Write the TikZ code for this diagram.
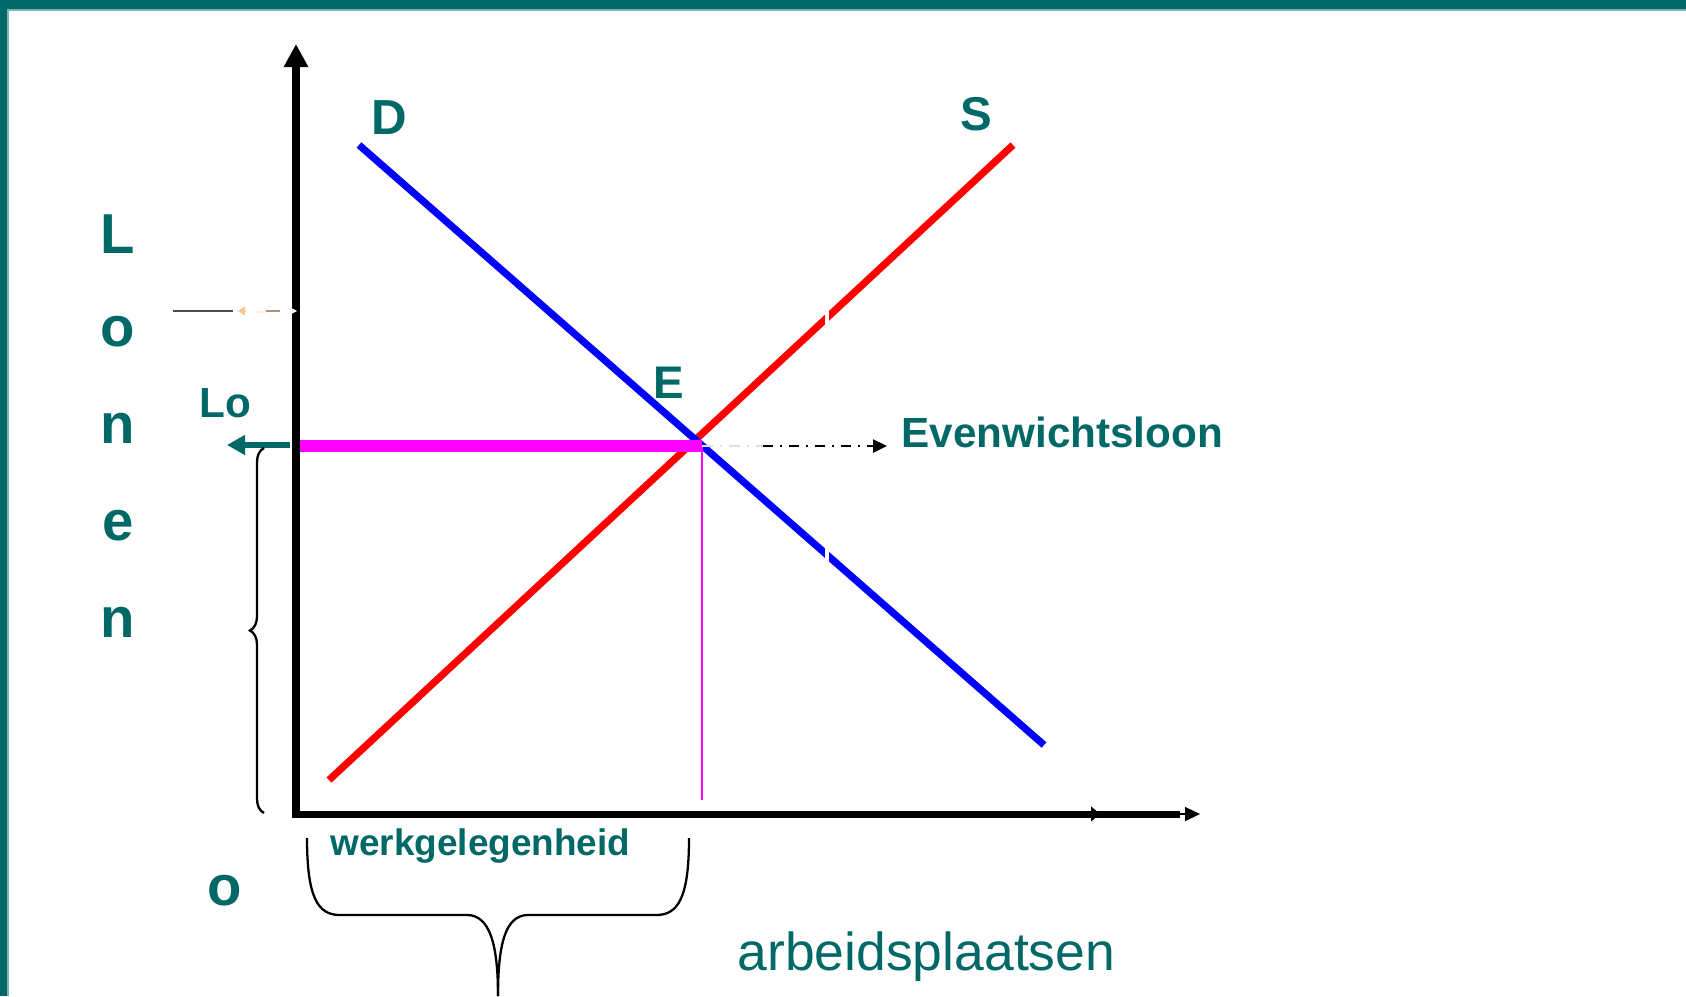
\documentclass[tikz,border=0pt]{standalone}
\usepackage{fontspec}
\setmainfont{Liberation Sans}
\usepackage{xcolor}
\usetikzlibrary{arrows.meta,decorations.pathreplacing}
\definecolor{lonenteal}{HTML}{006866}
\definecolor{loonpink}{RGB}{255,0,255}
\definecolor{dred}{RGB}{255,0,0}
\definecolor{dblue}{RGB}{0,0,255}

\begin{document}
\begin{tikzpicture}[
  x=0.01cm, y=-0.01cm,
  axis/.style={line width=2pt, black},
  curve/.style={line width=2.05pt},
  tealtxt/.style={text=lonenteal, inner sep=0pt},
  bracestroke/.style={line width=0.65pt, black}
]
\useasboundingbox (0,0) rectangle (1686,996);
\fill[lonenteal] (0,0) rectangle (1686,9);
\fill[lonenteal] (0,0) rectangle (7,996);
\fill[lonenteal!50] (7,9) rectangle (1686,10.5);
\fill[lonenteal!50] (7,9) rectangle (8.5,996);

\coordinate (O) at (296,814);
\coordinate (ytop) at (296,44);
\coordinate (xend) at (1180,814);
\coordinate (xmid) at (1100,814);
\coordinate (xtip) at (1200,814);
\coordinate (Dtop) at (359,145);
\coordinate (Dbot) at (1044,745);
\coordinate (Sbot) at (329,780);
\coordinate (Stop) at (1013,145);
\coordinate (wL) at (296,446);
\coordinate (E) at (702,446);
\coordinate (wfoot) at (702,800);
\coordinate (dd1) at (763,446);
\coordinate (dd2) at (887,446);
\coordinate (lo1) at (290,445);
\coordinate (lo2) at (227,445);

\draw[curve, dred] (Sbot) -- (Stop);
\draw[curve, dblue] (Dtop) -- (Dbot);
\draw[white, line width=1pt] (827,307) -- (827,328);
\draw[white, line width=1pt] (827,545) -- (827,566);

\draw[loonpink, line width=3.4pt] (wL) -- (E);
\draw[loonpink, line width=0.8pt] (E) -- (wfoot);
\draw[gray!25, line width=0.7pt, dash dot] (E) -- (dd1);
\draw[line width=0.7pt, dash pattern=on 2.8pt off 2pt on 0.6pt off 2pt,
  -{Triangle[length=0.14cm,width=0.13cm]}] (dd1) -- (dd2);

\draw[black!70, line width=0.5pt] (173,311) -- (233,311);
\draw[orange!45, line width=0.2pt, -{Triangle[length=0.07cm,width=0.09cm]}] (246,311) -- (238,311);
\draw[orange!15, line width=0.6pt] (257,312) -- (266,312);
\draw[brown!60!black!60, line width=0.6pt] (266,311) -- (280,311);

\draw[axis, {Triangle[length=0.23cm,width=0.23cm]}-] (ytop) -- (O) -- (xend);
\draw[line width=0.3pt, -{Triangle[length=0.09cm,width=0.15cm]}] (1090,814) -- (xmid);
\draw[line width=0.4pt, -{Triangle[length=0.15cm,width=0.14cm]}] (xend) -- (xtip);
\draw[white, line width=0.2pt, -{Triangle[length=0.05cm,width=0.05cm]}] (289,311) -- (297,311);

\draw[lonenteal, line width=1.6pt, -{Triangle[length=0.18cm,width=0.19cm]}] (lo1) -- (lo2);

\draw[bracestroke, decorate, decoration={brace, amplitude=0.14cm}] (264,813) -- (264,448);
\draw[bracestroke] (307,838) .. controls (307,898) and (318,915) .. (340,915) -- (467,915)
  .. controls (490,915) and (498,945) .. (498,996);
\draw[bracestroke] (689,838) .. controls (689,898) and (678,915) .. (656,915) -- (528,915)
  .. controls (505,915) and (498,945) .. (498,996);

\foreach \ch/\yy [count=\i] in {L/253,o/346,n/443,e/540,n/637}
  \node[tealtxt, anchor=base, font=\bfseries\fontsize{16}{19}\selectfont] (lonen\i) at (118,\yy) {\ch};
\node[tealtxt, anchor=base, font=\bfseries\fontsize{16}{19}\selectfont] (origin) at (225,905) {o};
\node[tealtxt, anchor=base west, font=\bfseries\fontsize{12}{14}\selectfont] (lo) at (199,417) {Lo};
\node[tealtxt, anchor=base, font=\bfseries\fontsize{14}{16}\selectfont] (dlab) at (389,134) {D};
\node[tealtxt, anchor=base, font=\bfseries\fontsize{13.5}{16}\selectfont] (slab) at (976,130) {S};
\node[tealtxt, anchor=base, font=\bfseries\fontsize{13}{15}\selectfont] (elab) at (669,398) {E};
\node[tealtxt, anchor=base west, font=\bfseries\fontsize{12}{14}\selectfont] (ewl) at (901,447) {Evenwichtsloon};
\node[tealtxt, anchor=base west, font=\bfseries\fontsize{10.5}{12}\selectfont] (werk) at (330,855) {werkgelegenheid};
\node[tealtxt, anchor=base west, font=\fontsize{15.2}{18}\selectfont] (arb) at (737,970) {arbeidsplaatsen};
\end{tikzpicture}
\end{document}
